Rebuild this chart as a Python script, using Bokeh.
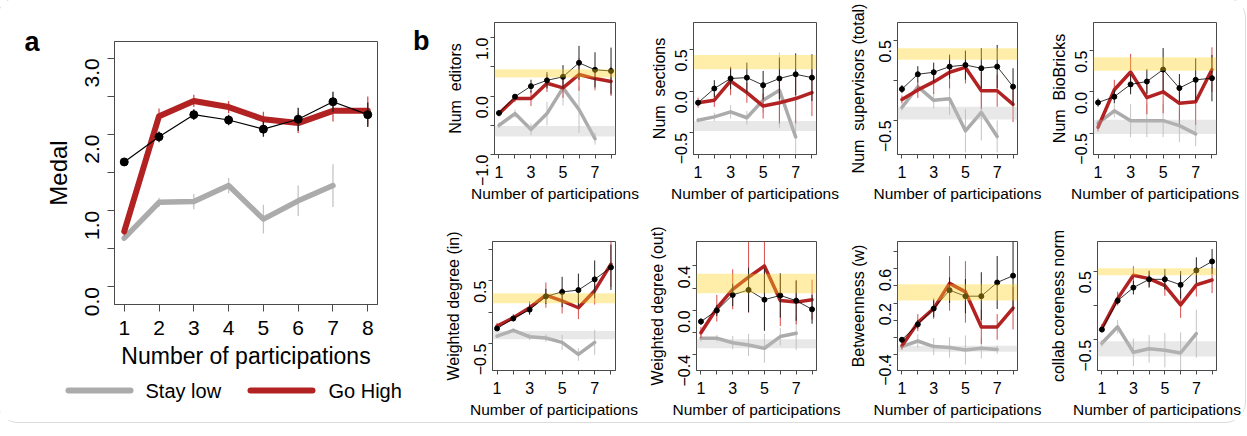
import math
from bokeh.plotting import figure
from bokeh.layouts import row, column
from bokeh.models import Range1d, BoxAnnotation, Title, FixedTicker, LinearAxis
from bokeh.core.properties import value
from bokeh.embed import file_html
from bokeh.resources import INLINE

# ---------------- data ----------------
participations = [1, 2, 3, 4, 5, 6, 7, 8]
participations_low = [1, 2, 3, 4, 5, 6, 7]

# panel a : Medal
medal_all = [1.64, 1.97, 2.26, 2.19, 2.07, 2.20, 2.43, 2.26]
medal_all_err = [0.04, 0.07, 0.07, 0.07, 0.10, 0.15, 0.13, 0.16]
medal_high = [0.73, 2.24, 2.44, 2.36, 2.20, 2.15, 2.31, 2.31]
medal_high_err = [0.05, 0.10, 0.08, 0.08, 0.10, 0.13, 0.14, 0.19]
medal_low = [0.64, 1.11, 1.12, 1.33, 0.89, 1.13, 1.33]
medal_low_err = [0.03, 0.06, 0.10, 0.10, 0.19, 0.20, 0.28]
medal_ticks = [0.0, 0.5, 1.0, 1.5, 2.0, 2.5, 3.0]
medal_ticklabels = ["0.0", " ", "1.0", " ", "2.0", " ", "3.0"]
legend_labels = ["Stay low", "Go High"]

# panel b
editors_all = [-0.29, -0.01, 0.17, 0.27, 0.33, 0.57, 0.45, 0.43]
editors_all_err = [0.03, 0.03, 0.11, 0.14, 0.20, 0.29, 0.30, 0.40]
editors_high = [-0.30, -0.04, -0.04, 0.22, 0.14, 0.37, 0.30, 0.25]
editors_high_err = [0.05, 0.06, 0.13, 0.15, 0.17, 0.28, 0.20, 0.25]
editors_low = [-0.50, -0.30, -0.57, -0.30, 0.14, -0.23, -0.73]
editors_low_err = [0.05, 0.07, 0.10, 0.20, 0.30, 0.40, 0.10]
editors_yellow = [0.32, 0.46]
editors_grey = [-0.69, -0.51]
editors_ticks = [-1.0, -0.5, 0.0, 0.5, 1.0]
editors_ticklabels = ["−1.0", " ", "0.0", " ", "1.0"]

sections_all = [-0.14, 0.03, 0.15, 0.16, 0.07, 0.15, 0.20, 0.16]
sections_all_err = [0.03, 0.10, 0.13, 0.18, 0.17, 0.25, 0.25, 0.28]
sections_high = [-0.14, -0.11, 0.12, -0.02, -0.18, -0.14, -0.09, -0.02]
sections_high_err = [0.06, 0.08, 0.17, 0.12, 0.15, 0.25, 0.30, 0.28]
sections_low = [-0.35, -0.31, -0.25, -0.32, -0.11, 0.01, -0.55]
sections_low_err = [0.03, 0.05, 0.08, 0.08, 0.15, 0.45, 0.20]
sections_yellow = [0.26, 0.43]
sections_grey = [-0.48, -0.36]
sections_ticks = [-0.5, 0.0, 0.5]
sections_ticklabels = ["−0.5", "0.0", "0.5"]

supervisors_all = [-0.11, 0.075, 0.10, 0.17, 0.19, 0.15, 0.17, -0.08]
supervisors_all_err = [0.05, 0.10, 0.12, 0.15, 0.18, 0.25, 0.27, 0.23]
supervisors_high = [-0.24, -0.12, -0.02, 0.10, 0.16, -0.13, -0.13, -0.30]
supervisors_high_err = [0.05, 0.10, 0.15, 0.20, 0.20, 0.23, 0.20, 0.22]
supervisors_low = [-0.34, -0.08, -0.25, -0.23, -0.63, -0.40, -0.70]
supervisors_low_err = [0.04, 0.08, 0.10, 0.20, 0.27, 0.35, 0.20]
supervisors_yellow = [0.255, 0.40]
supervisors_grey = [-0.49, -0.33]
supervisors_ticks = [-0.5, 0.0, 0.5]
supervisors_ticklabels = ["−0.5", " ", "0.5"]

biobricks_all = [-0.13, -0.06, 0.09, 0.125, 0.27, 0.045, 0.145, 0.165]
biobricks_all_err = [0.05, 0.08, 0.12, 0.15, 0.26, 0.17, 0.26, 0.28]
biobricks_high = [-0.43, 0.025, 0.24, -0.07, 0.0, -0.14, -0.12, 0.27]
biobricks_high_err = [0.05, 0.12, 0.22, 0.20, 0.26, 0.25, 0.28, 0.27]
biobricks_low = [-0.38, -0.23, -0.35, -0.35, -0.35, -0.41, -0.51]
biobricks_low_err = [0.04, 0.08, 0.20, 0.20, 0.20, 0.20, 0.15]
biobricks_yellow = [0.255, 0.42]
biobricks_grey = [-0.51, -0.34]
biobricks_ticks = [-0.5, 0.0, 0.5]
biobricks_ticklabels = ["−0.5", "0.0", "0.5"]

wdin_all = [-0.26, -0.10, 0.04, 0.25, 0.32, 0.35, 0.52, 0.71]
wdin_all_err = [0.03, 0.04, 0.08, 0.12, 0.24, 0.26, 0.30, 0.36]
wdin_high = [-0.22, -0.09, 0.07, 0.27, 0.18, 0.07, 0.34, 0.76]
wdin_high_err = [0.05, 0.06, 0.10, 0.20, 0.20, 0.18, 0.22, 0.36]
wdin_low = [-0.38, -0.29, -0.39, -0.41, -0.48, -0.67, -0.48]
wdin_low_err = [0.03, 0.04, 0.05, 0.06, 0.12, 0.10, 0.20]
wdin_yellow = [0.14, 0.30]
wdin_grey = [-0.43, -0.30]
wdin_ticks = [-0.5, 0.0, 0.5, 1.0]
wdin_ticklabels = ["−0.5", " ", "0.5", " "]

wdout_all = [-0.10, 0.0, 0.14, 0.185, 0.097, 0.135, 0.088, 0.01]
wdout_all_err = [0.03, 0.05, 0.10, 0.20, 0.28, 0.20, 0.18, 0.13]
wdout_high = [-0.20, 0.02, 0.19, 0.30, 0.40, 0.09, 0.075, 0.097]
wdout_high_err = [0.05, 0.12, 0.18, 0.32, 0.25, 0.23, 0.20, 0.18]
wdout_low = [-0.25, -0.25, -0.29, -0.31, -0.34, -0.235, -0.205]
wdout_low_err = [0.03, 0.03, 0.06, 0.10, 0.13, 0.08, 0.15]
wdout_yellow = [0.155, 0.33]
wdout_grey = [-0.34, -0.26]
wdout_ticks = [-0.4, -0.2, 0.0, 0.2, 0.4]
wdout_ticklabels = ["−0.4", " ", "0.0", " ", "0.4"]

betw_all = [-0.23, -0.05, 0.135, 0.35, 0.28, 0.28, 0.44, 0.52]
betw_all_err = [0.03, 0.05, 0.10, 0.15, 0.20, 0.28, 0.31, 0.41]
betw_high = [-0.30, -0.03, 0.135, 0.43, 0.33, -0.08, -0.08, 0.14]
betw_high_err = [0.05, 0.10, 0.12, 0.32, 0.36, 0.20, 0.15, 0.25]
betw_low = [-0.31, -0.245, -0.31, -0.32, -0.35, -0.33, -0.345]
betw_low_err = [0.03, 0.08, 0.10, 0.12, 0.17, 0.12, 0.05]
betw_yellow = [0.23, 0.42]
betw_grey = [-0.37, -0.30]
betw_ticks = [-0.4, -0.2, 0.0, 0.2, 0.4, 0.6, 0.8]
betw_ticklabels = ["−0.4", " ", " ", "0.2", " ", "0.6", " "]

core_all = [-0.35, 0.07, 0.26, 0.38, 0.38, 0.30, 0.51, 0.64]
core_all_err = [0.03, 0.05, 0.10, 0.12, 0.15, 0.20, 0.19, 0.18]
core_high = [-0.33, 0.10, 0.44, 0.39, 0.29, 0.01, 0.30, 0.37]
core_high_err = [0.06, 0.10, 0.13, 0.12, 0.15, 0.19, 0.17, 0.19]
core_low = [-0.55, -0.31, -0.68, -0.63, -0.65, -0.69, -0.41]
core_low_err = [0.05, 0.10, 0.20, 0.20, 0.25, 0.30, 0.35]
core_yellow = [0.44, 0.54]
core_grey = [-0.74, -0.52]
core_ticks = [-0.5, 0.0, 0.5]
core_ticklabels = ["−0.5", " ", "0.5"]

x_ticklabels = ["1", " ", "3", " ", "5", " ", "7", " "]

# ---------------- style ----------------
FONT = "Liberation Sans"
RED = "#B22222"
GREY = "#ABABAB"
AXIS = "#4a4a4a"


def no_frame_align(p):
    try:
        p.frame_align = False
    except Exception:
        pass


def style_axis(ax, tick_size, label_size, tick_out):
    ax.axis_line_color = AXIS
    ax.major_tick_line_color = AXIS
    ax.minor_tick_line_color = None
    ax.major_tick_out = tick_out
    ax.major_tick_in = 0
    ax.major_label_text_font = FONT
    ax.major_label_text_font_size = tick_size
    ax.major_label_text_color = "black"
    ax.axis_label_text_font = FONT
    ax.axis_label_text_font_size = label_size
    ax.axis_label_text_font_style = "normal"
    ax.axis_label_text_color = "black"


def panel_letter(p, letter, standoff, title_offset, title_standoff):
    """Bold panel letter, placed at the top of the left margin."""
    ax = LinearAxis(ticker=FixedTicker(ticks=[]), axis_line_color=None,
                    major_tick_line_color=None, minor_tick_line_color=None,
                    major_tick_out=0, major_tick_in=0, major_label_standoff=0,
                    axis_label=letter, axis_label_standoff=standoff,
                    axis_label_text_font=FONT, axis_label_text_font_size="27px",
                    axis_label_text_font_style="bold",
                    axis_label_text_color="black")
    ok = True
    try:
        ax.axis_label_orientation = "horizontal"
    except Exception:
        ok = False
    if ok:
        placed = False
        for al in ("end", "right", "top"):
            try:
                ax.axis_label_align = al
                placed = True
                break
            except Exception:
                pass
        ok = placed
    if ok:
        p.add_layout(ax, "left")
    else:
        p.title = Title(text=letter.strip(), align="left", offset=title_offset,
                        standoff=title_standoff, text_font=FONT,
                        text_font_size="27px", text_font_style="bold")


def errbars(p, xs, ys, es, color, width, alpha=1.0):
    p.segment(x0=xs, y0=[y - e for y, e in zip(ys, es)], x1=xs,
              y1=[y + e for y, e in zip(ys, es)],
              line_color=color, line_width=width, line_alpha=alpha)


def draw_series(p, a, ae, h, he, l, le, big):
    lw_red = 6 if big else 3.5
    lw_grey = 5.5 if big else 3.5
    errbars(p, participations_low, l, le, "#c4c4c4", 1.3 if big else 1)
    p.line(participations_low, l, line_color=GREY, line_width=lw_grey,
           line_join="round", line_cap="round")
    errbars(p, participations, h, he, "#d33a3a", 1.3 if big else 1, 0.9)
    p.line(participations, h, line_color=RED, line_width=lw_red,
           line_join="round", line_cap="round")
    errbars(p, participations, a, ae, "#222222", 1.3 if big else 1)
    p.line(participations, a, line_color="black", line_width=1.2 if big else 0.8)
    p.scatter(participations, a, size=8 if big else 5, fill_color="black",
              line_color="black")


def make_fig(w, h, yr, left, right, top, bottom):
    p = figure(width=w, height=h, x_range=Range1d(0.72, 8.28),
               y_range=Range1d(*yr), output_backend="svg",
               toolbar_location=None, min_border_left=left,
               min_border_right=right, min_border_top=top,
               min_border_bottom=bottom)
    no_frame_align(p)
    p.grid.visible = False
    p.outline_line_color = AXIS
    p.outline_line_alpha = 1
    p.outline_line_width = 1
    p.background_fill_color = "white"
    p.border_fill_color = "white"
    return p


# ---------------- panel a ----------------
pa = make_fig(410, 375, (-0.23, 3.22), 114, 33, 41, 71)
draw_series(pa, medal_all, medal_all_err, medal_high, medal_high_err,
            medal_low, medal_low_err, True)
style_axis(pa.xaxis[0], "21px", "23px", 7)
style_axis(pa.yaxis[0], "21px", "24px", 7)
pa.xaxis.ticker = FixedTicker(ticks=participations)
pa.yaxis.ticker = FixedTicker(ticks=medal_ticks)
pa.yaxis.major_label_overrides = dict(zip(medal_ticks, medal_ticklabels))
pa.yaxis.major_label_orientation = math.pi / 2
pa.xaxis.axis_label = "Number of participations"
pa.yaxis.axis_label = "Medal"
pa.xaxis.major_label_standoff = 9
pa.xaxis.axis_label_standoff = 5
pa.yaxis.major_label_standoff = 16
pa.yaxis.axis_label_standoff = -6
panel_letter(pa, "a", 2, -84, 6)

# legend figure (drawn as a key below panel a)
pl = figure(width=410, height=45, x_range=Range1d(0, 410), y_range=Range1d(0, 45),
            output_backend="svg", toolbar_location=None,
            x_axis_location=None, y_axis_location=None, min_border=0)
no_frame_align(pl)
pl.grid.visible = False
pl.outline_line_color = None
pl.line([68, 130], [30, 30], line_color=GREY, line_width=6, line_cap="round")
pl.line([250, 312], [30, 30], line_color=RED, line_width=6, line_cap="round")
pl.text(x=[145, 328], y=[30, 30], text=legend_labels, text_font=value(FONT),
        text_font_size="20px", text_baseline="middle", text_align="left",
        text_color="black")

col_a = column(pa, pl)

# ---------------- panel b ----------------
specs = [
    ("Num \u00a0editors", editors_all, editors_all_err, editors_high, editors_high_err,
     editors_low, editors_low_err, editors_yellow, editors_grey,
     (-1.0, 1.26), editors_ticks, editors_ticklabels),
    ("Num \u00a0sections", sections_all, sections_all_err, sections_high, sections_high_err,
     sections_low, sections_low_err, sections_yellow, sections_grey,
     (-0.76, 0.82), sections_ticks, sections_ticklabels),
    ("Num \u00a0supervisors (total)", supervisors_all, supervisors_all_err, supervisors_high,
     supervisors_high_err, supervisors_low, supervisors_low_err, supervisors_yellow,
     supervisors_grey, (-0.925, 0.72), supervisors_ticks, supervisors_ticklabels),
    ("Num \u00a0BioBricks", biobricks_all, biobricks_all_err, biobricks_high, biobricks_high_err,
     biobricks_low, biobricks_low_err, biobricks_yellow, biobricks_grey,
     (-0.76, 0.84), biobricks_ticks, biobricks_ticklabels),
    ("Weighted degree (in)", wdin_all, wdin_all_err, wdin_high, wdin_high_err,
     wdin_low, wdin_low_err, wdin_yellow, wdin_grey,
     (-0.925, 1.12), wdin_ticks, wdin_ticklabels),
    ("Weighted degree (out)", wdout_all, wdout_all_err, wdout_high, wdout_high_err,
     wdout_low, wdout_low_err, wdout_yellow, wdout_grey,
     (-0.54, 0.62), wdout_ticks, wdout_ticklabels),
    ("Betweenness (w)", betw_all, betw_all_err, betw_high, betw_high_err,
     betw_low, betw_low_err, betw_yellow, betw_grey,
     (-0.59, 0.92), betw_ticks, betw_ticklabels),
    ("collab coreness norm", core_all, core_all_err, core_high, core_high_err,
     core_low, core_low_err, core_yellow, core_grey,
     (-0.945, 0.93), core_ticks, core_ticklabels),
]

col_w = [(235, 82, 30), (201, 48, 30), (200, 48, 29), (197, 47, 27)]
row_h = [(220, 22, 66), (200, 21, 47)]

figs = []
for i, s in enumerate(specs):
    (ylabel, a, ae, h, he, l, le, yb, gb, yr, ticks, tlabels) = s
    w, left, right = col_w[i % 4]
    hh, top, bottom = row_h[i // 4]
    p = make_fig(w, hh, yr, left, right, top, bottom)
    draw_series(p, a, ae, h, he, l, le, False)
    p.add_layout(BoxAnnotation(bottom=yb[0], top=yb[1], fill_color="#FFD21F",
                               fill_alpha=0.38, line_color=None))
    p.add_layout(BoxAnnotation(bottom=gb[0], top=gb[1], fill_color="#BDBDBD",
                               fill_alpha=0.35, line_color=None))
    style_axis(p.xaxis[0], "16px", "15.5px", 4)
    style_axis(p.yaxis[0], "16px", "16px", 4)
    p.xaxis.ticker = FixedTicker(ticks=participations)
    p.xaxis.major_label_overrides = dict(zip(participations, x_ticklabels))
    p.yaxis.ticker = FixedTicker(ticks=ticks)
    p.yaxis.major_label_overrides = dict(zip(ticks, tlabels))
    p.yaxis.major_label_orientation = math.pi / 2
    p.xaxis.axis_label = "Number of participations"
    p.yaxis.axis_label = ylabel
    p.xaxis.major_label_standoff = 5
    p.xaxis.axis_label_standoff = 1
    p.yaxis.major_label_standoff = 8
    p.yaxis.axis_label_standoff = -1
    figs.append(p)

panel_letter(figs[0], "\nb", 14, -77, -11)

col_b = column(row(*figs[:4]), row(*figs[4:]))
root = row(col_a, col_b, styles={"outline": "1.5px solid #dddddd",
                                 "outline-offset": "2px",
                                 "border-radius": "18px"})

open("out.html", "w").write(file_html(root, INLINE))
